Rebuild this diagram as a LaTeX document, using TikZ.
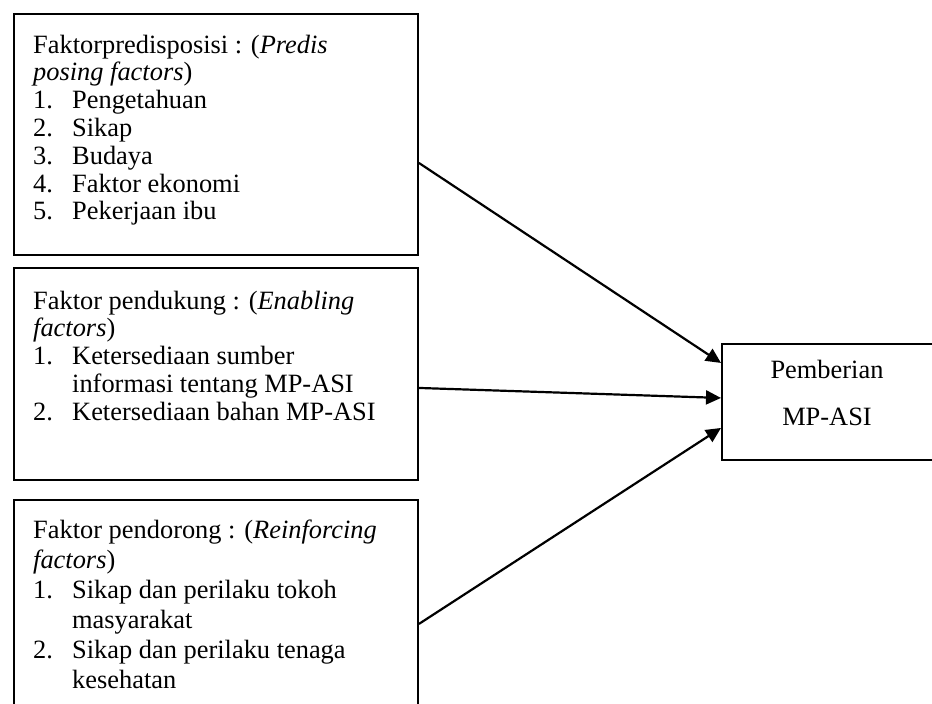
\documentclass[tikz,border=0pt]{standalone}
\usepackage{fontspec}
\setmainfont{Liberation Serif}
\usetikzlibrary{arrows.meta}

\newcommand{\numitem}[1]{\makebox[39pt][l]{#1}}
\newcommand{\contitem}{\hspace*{39pt}}

\begin{document}
\begin{tikzpicture}[x=1pt,y=-1pt,
  factorbox/.style={draw,line width=1.9pt,anchor=north west,inner sep=0pt,minimum width=404pt},
  factortext/.style={anchor=base west,inner sep=0pt},
  arrowline/.style={line width=2.2pt,-{Triangle[length=15pt,width=14pt]}}]

  \useasboundingbox (0,0) rectangle (932,704);
  \clip (0,0) rectangle (932,704);

  \def\fs{\fontsize{26.4}{27.8}\selectfont\raggedright}

  % boxes on the left
  \node[factorbox,minimum height=241pt] (predis) at (13,13) {};
  \node[factorbox,minimum height=212pt] (enabling) at (13,267) {};
  \node[factorbox,minimum height=248pt] (reinforcing) at (13,499) {};

  % box on the right (cut at the page edge)
  \node[draw,line width=1.9pt,anchor=north west,inner sep=0pt,
        minimum width=212pt,minimum height=116pt] (mpasi) at (721,343) {};

  % texts
  \node[factortext] (predistext) at (33,53) {\parbox[t]{382pt}{\fs
    Faktorpredisposisi : (\textit{Predis}\\
    \textit{posing factors})\\
    \numitem{1.}Pengetahuan\\
    \numitem{2.}Sikap\\
    \numitem{3.}Budaya\\
    \numitem{4.}Faktor ekonomi\\
    \numitem{5.}Pekerjaan ibu}};

  \node[factortext] (enablingtext) at (33,309) {\parbox[t]{382pt}{\fs
    Faktor pendukung : (\textit{Enabling}\\
    \textit{factors})\\
    \numitem{1.}Ketersediaan sumber\\
    \contitem informasi tentang MP-ASI\\
    \numitem{2.}Ketersediaan bahan MP-ASI}};

  % a bit more space between lines here
  \node[factortext] (reinforcingtext) at (33,538) {\parbox[t]{382pt}{\fs
    \baselineskip=30pt
    Faktor pendorong : (\textit{Reinforcing}\\
    \textit{factors})\\
    \numitem{1.}Sikap dan perilaku tokoh\\
    \contitem masyarakat\\
    \numitem{2.}Sikap dan perilaku tenaga\\
    \contitem kesehatan}};

  \node[anchor=base,inner sep=0pt] (mpasitext) at (827,378) {\parbox[t]{200pt}{\centering
    \fontsize{26.4}{47}\selectfont Pemberian\\MP-ASI}};

  % arrows
  \draw[arrowline] ([yshift=-28.5pt]predis.east) -- ([yshift=39pt]mpasi.west);
  \draw[arrowline] ([yshift=-14pt]enabling.east) -- ([yshift=4pt]mpasi.west);
  \draw[arrowline] (reinforcing.east) -- ([yshift=-26pt]mpasi.west);

\end{tikzpicture}
\end{document}
